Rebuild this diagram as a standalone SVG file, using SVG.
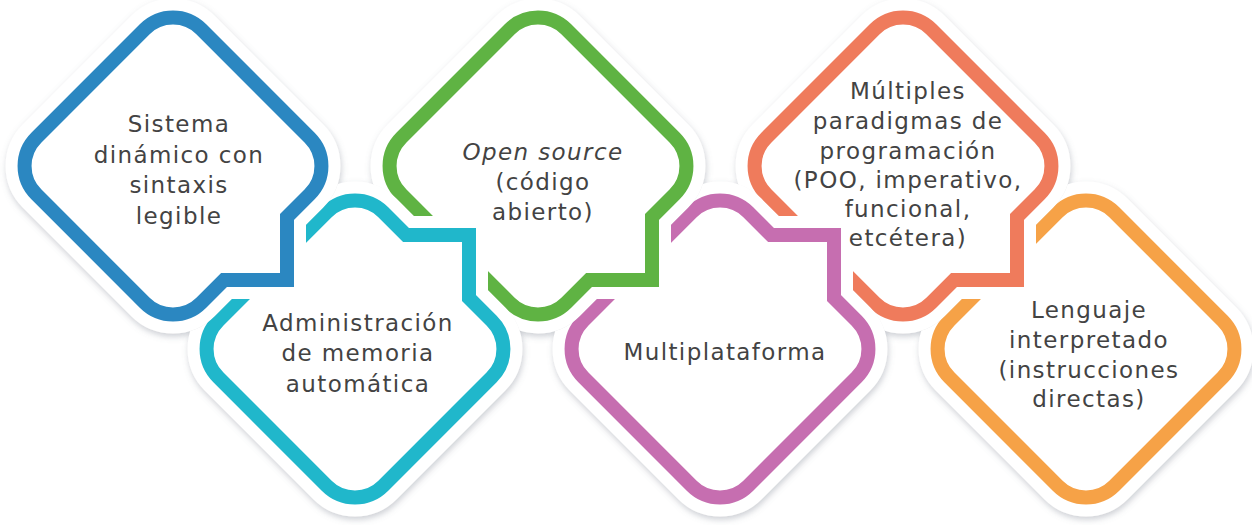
<svg xmlns="http://www.w3.org/2000/svg" xmlns:xlink="http://www.w3.org/1999/xlink" width="1252" height="525" viewBox="0 0 1252 525">
  <style>
    .halo { fill: #ffffff; stroke: #ffffff; stroke-width: 38; stroke-linejoin: miter; filter: url(#shadow); }
    .ring { fill: none; stroke-width: 14; stroke-linejoin: miter; }
    .cut { fill: #000000; stroke: #000000; stroke-width: 38; stroke-linejoin: miter; }
    .label { font-family: "DejaVu Sans", "Liberation Sans", sans-serif; font-size: 23px; fill: #434343; text-anchor: middle; letter-spacing: 1.4px; }
    .blue { stroke: #2b87c1; }
    .cyan { stroke: #20b7cb; }
    .green { stroke: #5fb343; }
    .pink { stroke: #c66eb0; }
    .coral { stroke: #ef7b5c; }
    .orange { stroke: #f6a247; }
  </style>
  <defs>
    <filter id="shadow" x="-20%" y="-20%" width="140%" height="145%">
      <feDropShadow dx="1" dy="3" stdDeviation="3" flood-color="#6f7786" flood-opacity="0.35"/>
    </filter>
    <!-- rounded diamond with a square bump on the lower-right edge -->
    <path id="shapeTop" d="M-28.3,-136.7 A40,40 0 0 1 28.3,-136.7 L136.7,-28.3 A40,40 0 0 1 136.7,28.3 L114,51 L114,114 L51,114 L28.3,136.7 A40,40 0 0 1 -28.3,136.7 L-136.7,28.3 A40,40 0 0 1 -136.7,-28.3 Z"/>
    <!-- rounded diamond with a square bump on the upper-right edge -->
    <path id="shapeBottom" d="M-28.3,-136.7 A40,40 0 0 1 28.3,-136.7 L51,-114 L114,-114 L114,-51 L136.7,-28.3 A40,40 0 0 1 136.7,28.3 L28.3,136.7 A40,40 0 0 1 -28.3,136.7 L-136.7,28.3 A40,40 0 0 1 -136.7,-28.3 Z"/>
    <!-- plain rounded diamond -->
    <path id="shapePlain" d="M-28.3,-136.7 A40,40 0 0 1 28.3,-136.7 L136.7,-28.3 A40,40 0 0 1 136.7,28.3 L28.3,136.7 A40,40 0 0 1 -28.3,136.7 L-136.7,28.3 A40,40 0 0 1 -136.7,-28.3 Z"/>

    <!-- each tile is cut away where the tile to its left (with its white border) sits -->
    <mask id="behind-sistema" maskUnits="userSpaceOnUse" x="0" y="0" width="1252" height="525">
      <rect width="1252" height="525" fill="#ffffff"/>
      <use href="#shapeTop" x="173" y="166" class="cut"/>
    </mask>
    <mask id="behind-memoria" maskUnits="userSpaceOnUse" x="0" y="0" width="1252" height="525">
      <rect width="1252" height="525" fill="#ffffff"/>
      <use href="#shapeBottom" x="355" y="349" class="cut"/>
    </mask>
    <mask id="behind-open-source" maskUnits="userSpaceOnUse" x="0" y="0" width="1252" height="525">
      <rect width="1252" height="525" fill="#ffffff"/>
      <use href="#shapeTop" x="538" y="166" class="cut"/>
    </mask>
    <mask id="behind-multiplataforma" maskUnits="userSpaceOnUse" x="0" y="0" width="1252" height="525">
      <rect width="1252" height="525" fill="#ffffff"/>
      <use href="#shapeBottom" x="720" y="349" class="cut"/>
    </mask>
    <mask id="behind-paradigmas" maskUnits="userSpaceOnUse" x="0" y="0" width="1252" height="525">
      <rect width="1252" height="525" fill="#ffffff"/>
      <use href="#shapeTop" x="903" y="166" class="cut"/>
    </mask>
  </defs>

  <g id="node-sistema">
    <g>
      <use href="#shapeTop" x="173" y="166" class="halo"/>
      <use href="#shapeTop" x="173" y="166" class="ring blue"/>
    </g>
    <text class="label" x="179" y="132">Sistema</text>
    <text class="label" x="179" y="162.5">dinámico con</text>
    <text class="label" x="179" y="193">sintaxis</text>
    <text class="label" x="179" y="223.5">legible</text>
  </g>

  <g id="node-memoria">
    <g mask="url(#behind-sistema)">
      <use href="#shapeBottom" x="355" y="349" class="halo"/>
      <use href="#shapeBottom" x="355" y="349" class="ring cyan"/>
    </g>
    <text class="label" x="358" y="330.5">Administración</text>
    <text class="label" x="358" y="361">de memoria</text>
    <text class="label" x="358" y="391.5">automática</text>
  </g>

  <g id="node-open-source">
    <g mask="url(#behind-memoria)">
      <use href="#shapeTop" x="538" y="166" class="halo"/>
      <use href="#shapeTop" x="538" y="166" class="ring green"/>
    </g>
    <text class="label" x="543" y="160" font-style="italic">Open source</text>
    <text class="label" x="543" y="190">(código</text>
    <text class="label" x="543" y="220">abierto)</text>
  </g>

  <g id="node-multiplataforma">
    <g mask="url(#behind-open-source)">
      <use href="#shapeBottom" x="720" y="349" class="halo"/>
      <use href="#shapeBottom" x="720" y="349" class="ring pink"/>
    </g>
    <text class="label" x="725" y="360">Multiplataforma</text>
  </g>

  <g id="node-paradigmas">
    <g mask="url(#behind-multiplataforma)">
      <use href="#shapeTop" x="903" y="166" class="halo"/>
      <use href="#shapeTop" x="903" y="166" class="ring coral"/>
    </g>
    <text class="label" x="908" y="99">Múltiples</text>
    <text class="label" x="908" y="128.5">paradigmas de</text>
    <text class="label" x="908" y="158.5">programación</text>
    <text class="label" x="908" y="188">(POO, imperativo,</text>
    <text class="label" x="908" y="217">funcional,</text>
    <text class="label" x="908" y="246">etcétera)</text>
  </g>

  <g id="node-interpretado">
    <g mask="url(#behind-paradigmas)">
      <use href="#shapePlain" x="1086" y="349" class="halo"/>
      <use href="#shapePlain" x="1086" y="349" class="ring orange"/>
    </g>
    <text class="label" x="1089" y="318">Lenguaje</text>
    <text class="label" x="1089" y="348">interpretado</text>
    <text class="label" x="1089" y="378">(instrucciones</text>
    <text class="label" x="1089" y="407">directas)</text>
  </g>
</svg>
